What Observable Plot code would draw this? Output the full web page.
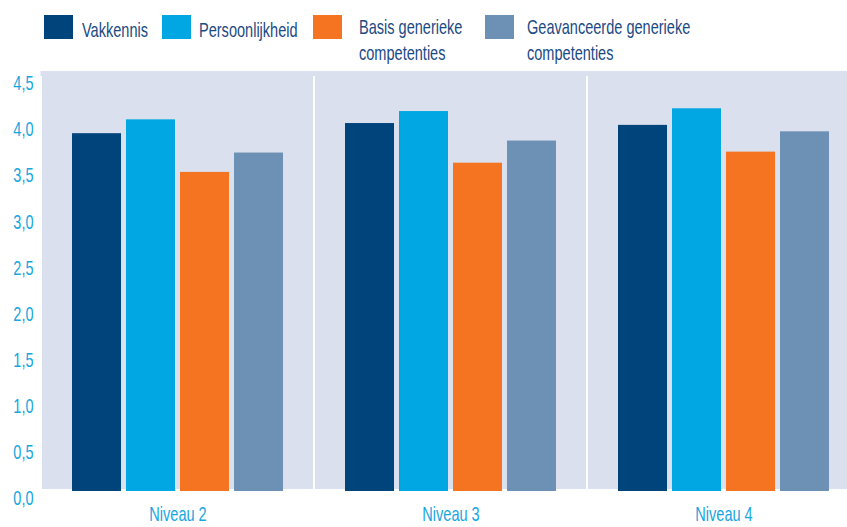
<!DOCTYPE html>
<html>
<head>
<meta charset="utf-8">
<script src="https://cdn.jsdelivr.net/npm/d3@7"></script>
<script src="https://cdn.jsdelivr.net/npm/@observablehq/plot@0.6"></script>
<style>
  html, body { margin: 0; padding: 0; background: #fff; overflow: hidden; width: 847px; height: 527px; }
  #wrap { position: relative; width: 847px; height: 527px; overflow: hidden; }
  #legend { position: relative; height: 64px; }
  .sw { position: absolute; top: 15px; width: 29px; height: 24px; }
  .lt { position: absolute; font-family: 'Liberation Sans Narrow', 'Liberation Sans', sans-serif; font-size: 21px;
        line-height: 25.7px; color: #1b4a84; white-space: nowrap; transform-origin: 0 0; }
  #chart svg { display: block; max-width: none !important; }
</style>
</head>
<body>
<div id="wrap">
  <div id="legend"></div>
  <div id="chart"></div>
</div>
<script>
const niveaus = ["Niveau 2", "Niveau 3", "Niveau 4"];
const series = ["Vakkennis", "Persoonlijkheid", "Basis generieke competenties", "Geavanceerde generieke competenties"];
const vakkennis = [3.88, 3.99, 3.97];
const persoonlijkheid = [4.03, 4.12, 4.15];
const basisGeneriek = [3.46, 3.56, 3.68];
const geavanceerdGeneriek = [3.67, 3.80, 3.90];
const colors = ["#00447c", "#00a7e3", "#f47421", "#6d91b4"];
const yTicks = [0, 0.5, 1, 1.5, 2, 2.5, 3, 3.5, 4, 4.5];

const valuesBySeries = [vakkennis, persoonlijkheid, basisGeneriek, geavanceerdGeneriek];
const data = [];
niveaus.forEach((n, i) => series.forEach((s, j) => data.push({niveau: n, serie: s, value: valuesBySeries[j][i]})));

const fontStack = "'Liberation Sans Narrow', 'Liberation Sans', sans-serif";
// condensed look: compress horizontally to match reference widths
const ctx = document.createElement("canvas").getContext("2d");
ctx.font = "21px " + fontStack;
const squeeze = 66 / ctx.measureText("Vakkennis").width;

// Legend (HTML above the SVG)
const legend = document.getElementById("legend");
const swLeft = [44, 162, 313, 485];
const txLeft = [82, 199, 359, 527];
const txTop = [17.2, 17.2, 14.2, 14.2];
series.forEach((s, j) => {
  const sw = document.createElement("div");
  sw.className = "sw";
  sw.style.left = swLeft[j] + "px";
  sw.style.background = colors[j];
  legend.appendChild(sw);
  const t = document.createElement("div");
  t.className = "lt";
  t.style.left = txLeft[j] + "px";
  t.style.top = txTop[j] + "px";
  t.style.transform = `scaleX(${squeeze})`;
  t.innerHTML = s.replace(" competenties", "<br>competenties");
  legend.appendChild(t);
});

const fmt = d => d.toFixed(1).replace(".", ",");
const axisColor = "#17a6df";

const chart = Plot.plot({
  width: 859,
  height: 463,
  marginLeft: 41,
  marginRight: 0,
  marginTop: 12,
  marginBottom: 36,
  style: {fontFamily: fontStack, fontSize: "21px", background: "transparent", overflow: "visible", maxWidth: "none"},
  fx: {domain: niveaus, paddingInner: 0.00914, paddingOuter: 0, label: null, axis: null},
  x: {domain: series, paddingInner: 0.086, paddingOuter: 0.52, axis: null},
  y: {domain: [0, 4.5], axis: null},
  color: {domain: series, range: colors},
  marks: [
    Plot.rect(niveaus, {fx: d => d, y1: 0.022, y2: 4.52, fill: "#dae0ee"}),
    Plot.rect(niveaus, {fx: d => d, y1: 4.5, y2: 4.554, fill: "#dae0ee", insetLeft: -1.5, insetRight: -1.5}),
    Plot.barY(data, {fx: "niveau", x: "serie", y: "value", fill: "serie"}),
    Plot.axisY({ticks: yTicks, tickFormat: fmt, tickSize: 0, tickPadding: 9, dy: 7, fill: axisColor, fontSize: 21, label: null}),
    Plot.axisFx({anchor: "bottom", tickSize: 0, tickPadding: 15, fill: axisColor, fontSize: 21, label: null})
  ]
});
chart.style.maxWidth = "none";
chart.style.height = "463px";

// apply horizontal squeeze to all SVG texts (around their anchor)
chart.querySelectorAll("text").forEach(el => {
  const t = el.getAttribute("transform") || "";
  const x = el.getAttribute("x");
  if (x != null) el.setAttribute("x", +x / squeeze);
  el.setAttribute("transform", (t + ` scale(${squeeze},1)`).trim());
});

document.getElementById("chart").appendChild(chart);
</script>
</body>
</html>
